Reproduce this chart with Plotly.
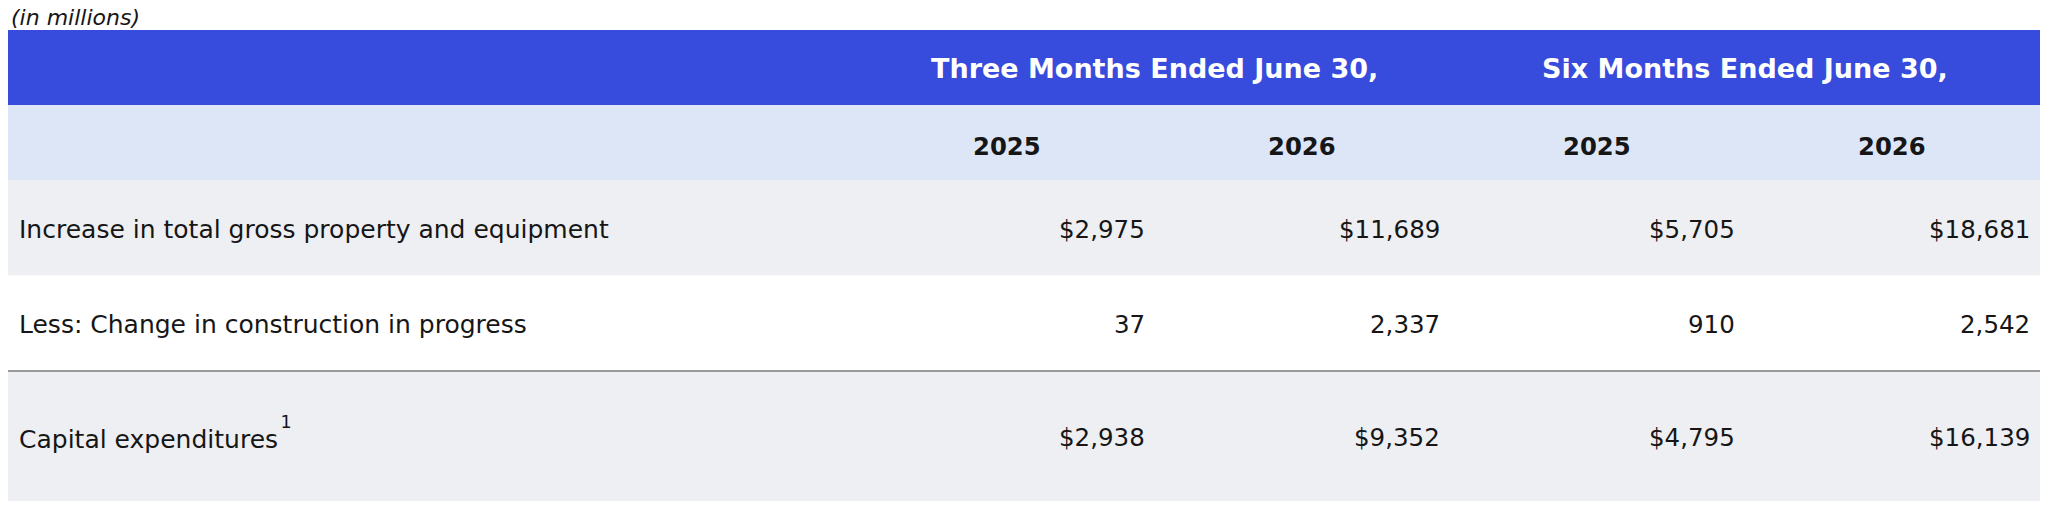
import plotly.graph_objects as go

# data
periods = ["Three Months Ended June 30,", "Six Months Ended June 30,"]
years = ["2025", "2026", "2025", "2026"]
row_labels = [
    "Increase in total gross property and equipment",
    "Less: Change in construction in progress",
    "Capital expenditures",
]
three_2025 = [2975, 37, 2938]
three_2026 = [11689, 2337, 9352]
six_2025 = [5705, 910, 4795]
six_2026 = [18681, 2542, 16139]
dollar_rows = [True, False, True]
footnotes = ["", "", "1"]
unit_note = "(in millions)"

# page geometry (pixels, in window coordinates; the page body has an 8px margin)
W, H = 2048, 520
OFF = 8
left, right = 8, 2041
col_frac = [0.4195, 0.14513, 0.14513, 0.14513, 0.14513]
head_h = [75, 75]
body_h = [95.5, 95.5, 130]
top = 30
pad = 12

BLUE = "#374bdc"
LIGHT = "#dce6f7"
GREY = "#eeeff3"
TXT = "#161616"
FONT = "DejaVu Sans"

value_cols = [three_2025, three_2026, six_2025, six_2026]

# column edges
tw = right - left
edges = [left]
for f in col_frac:
    edges.append(edges[-1] + f * tw)

# row edges
row_edges = [top]
for h in head_h + body_h:
    row_edges.append(row_edges[-1] + h)

fig = go.Figure()
shapes = []
annots = []

fills = [BLUE, LIGHT] + [GREY if i % 2 == 0 else "white" for i in range(len(body_h))]
for i, c in enumerate(fills):
    shapes.append(dict(type="rect", xref="x", yref="y", x0=left, x1=right,
                       y0=row_edges[i], y1=row_edges[i + 1],
                       fillcolor=c, line=dict(width=0), layer="below"))

# rule above the total row
shapes.append(dict(type="line", xref="x", yref="y", x0=left, x1=right,
                   y0=row_edges[-2], y1=row_edges[-2],
                   line=dict(color="#999999", width=2)))

def mid(a, b):
    return (a + b) / 2

# spanning period headers (centred over their two year columns)
for k, p in enumerate(periods):
    annots.append(dict(x=edges[2 + 2 * k] - 1.3, y=mid(row_edges[0], row_edges[1]) + 0.5,
                       text="<b>" + p + "</b>", showarrow=False,
                       xanchor="center", yanchor="middle",
                       font=dict(family=FONT, size=27, color="white")))

# year headers
for j, yr in enumerate(years):
    annots.append(dict(x=mid(edges[j + 1], edges[j + 2]) - 1.3,
                       y=mid(row_edges[1], row_edges[2]) + 4,
                       text="<b>" + yr + "</b>", showarrow=False,
                       xanchor="center", yanchor="middle",
                       font=dict(family=FONT, size=24.3, color=TXT)))

# body rows
for r, lab in enumerate(row_labels):
    yc = mid(row_edges[2 + r], row_edges[3 + r]) + 1.5
    t = lab
    ly = yc
    if footnotes[r]:
        # footnote marker sits a bit higher than a plain <sup>;
        # the taller text box is pulled back up so the label stays in line
        t = (lab + "\u200a<sup><span style='baseline-shift:9px'>"
             + footnotes[r] + "</span></sup>")
        ly = yc - 5
    annots.append(dict(x=left + pad - 3, y=ly, text=t, showarrow=False,
                       xanchor="left", yanchor="middle",
                       font=dict(family=FONT, size=25, color=TXT)))
    for j, col in enumerate(value_cols):
        v = col[r]
        s = ("${:,}" if dollar_rows[r] else "{:,}").format(v)
        annots.append(dict(x=edges[j + 2] - pad + 3, y=yc, text=s, showarrow=False,
                           xanchor="right", yanchor="middle",
                           font=dict(family=FONT, size=24.5, color=TXT)))

# units note
annots.append(dict(x=left + 1, y=17.5, text="<i>" + unit_note + "</i>",
                   showarrow=False, xanchor="left", yanchor="middle",
                   font=dict(family=FONT, size=22, color=TXT)))

fig.update_layout(
    width=W - OFF, height=H - OFF,
    margin=dict(l=0, r=0, t=0, b=0),
    paper_bgcolor="white", plot_bgcolor="white",
    xaxis=dict(range=[OFF, W], visible=False, fixedrange=True),
    yaxis=dict(range=[H, OFF], visible=False, fixedrange=True),
    shapes=shapes, annotations=annots,
    showlegend=False,
)

fig.write_html("out.html")
